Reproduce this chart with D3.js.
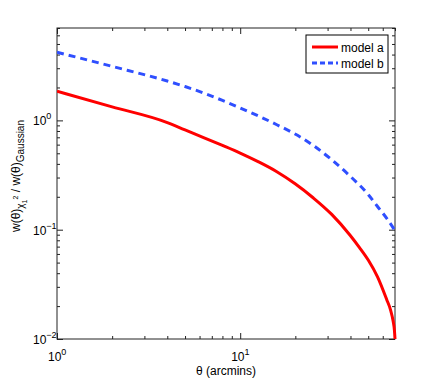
<!DOCTYPE html>
<meta charset="utf-8">
<style>
body { margin: 0; background: #fff; }
svg { font-family: "Liberation Sans", Arial, sans-serif; }
.axis path { stroke: #222; }
.axis line { stroke: #222; }
.lbl { font-size: 12px; fill: #000; }
</style>
<body>
<svg width="436" height="382"></svg>
<script src="https://d3js.org/d3.v7.min.js"></script>
<script>

// values (theta in arcmins)
var thetaA = [1, 2, 4, 5, 6.31, 7.94, 10, 12.6, 15.85, 19.95, 25.1, 31.6, 39.8, 44.7, 50.1, 56.2, 63.1, 66.1, 68.4, 69.5, 70];
var modelA = [1.85, 1.33, 0.955, 0.817, 0.697, 0.593, 0.502, 0.417, 0.339, 0.263, 0.195, 0.138, 0.089, 0.069, 0.0525, 0.037, 0.0229, 0.0186, 0.0145, 0.012, 0.01];

var thetaB = [1, 2, 4, 5, 6.31, 7.94, 10, 12.6, 15.85, 19.95, 25.1, 31.6, 39.8, 50.1, 56.2, 63.1, 70];
var modelB = [4.2, 3.12, 2.29, 2.04, 1.78, 1.53, 1.30, 1.096, 0.912, 0.75, 0.589, 0.436, 0.309, 0.209, 0.163, 0.127, 0.098];

var xMajor = [1, 10];
var yMajor = [0.01, 0.1, 1];
var xTickExp = ["0", "1"];
var yTickExp = ["\u22122", "\u22121", "0"];
var legendNames = ["model a", "model b"];

var padL = 57, padR = 395, padT = 28, padB = 339;

var svg = d3.select("svg");

var x = d3.scaleLog().domain([1, 70]).range([padL, padR]);
var y = d3.scaleLog().domain([0.01, 7]).range([padB, padT]);

var xMinor = [], yMinor = [];
[1, 10].forEach(function(d) {
  for (var k = 2; k <= 9; k++) if (d * k <= 70) xMinor.push(d * k);
});
[0.01, 0.1, 1].forEach(function(d) {
  for (var k = 2; k <= 9; k++) if (d * k <= 7) yMinor.push(d * k);
});

// inward ticks on all four sides
function addAxis(gen, tx, ty) {
  svg.append("g").attr("class", "axis")
    .attr("transform", "translate(" + tx + "," + ty + ")")
    .call(gen)
    .call(function(g) { g.selectAll("text").remove(); g.select(".domain").remove(); });
}
addAxis(d3.axisBottom(x).tickValues(xMajor).tickSize(-6), 0, padB);
addAxis(d3.axisBottom(x).tickValues(xMinor).tickSize(-3), 0, padB);
addAxis(d3.axisTop(x).tickValues(xMajor).tickSize(-6), 0, padT);
addAxis(d3.axisTop(x).tickValues(xMinor).tickSize(-3), 0, padT);
addAxis(d3.axisLeft(y).tickValues(yMajor).tickSize(-6), padL, 0);
addAxis(d3.axisLeft(y).tickValues(yMinor).tickSize(-3), padL, 0);
addAxis(d3.axisRight(y).tickValues(yMajor).tickSize(-6), padR, 0);
addAxis(d3.axisRight(y).tickValues(yMinor).tickSize(-3), padR, 0);

// box
svg.append("rect")
  .attr("x", padL).attr("y", padT)
  .attr("width", padR - padL).attr("height", padB - padT)
  .attr("fill", "none").attr("stroke", "#222").attr("stroke-width", 1);

// tick labels
xMajor.forEach(function(d, i) {
  var t = svg.append("text").attr("class", "lbl")
    .attr("x", x(d) - 9).attr("y", 361);
  t.append("tspan").text("10");
  t.append("tspan").attr("dy", -6).style("font-size", "9px").text(xTickExp[i]);
});
yMajor.forEach(function(d, i) {
  var t = svg.append("text").attr("class", "lbl")
    .attr("x", 33).attr("y", y(d) + 5);
  t.append("tspan").text("10");
  t.append("tspan").attr("dy", -6).style("font-size", "9px").text(yTickExp[i]);
});

// axis labels
svg.append("text").attr("class", "lbl")
  .attr("x", 226).attr("y", 375).attr("text-anchor", "middle")
  .text("\u03b8 (arcmins)");

var yl = svg.append("text").attr("class", "lbl")
  .attr("transform", "translate(20,176) rotate(-90)")
  .attr("text-anchor", "middle");
yl.append("tspan").text("w(\u03b8)");
yl.append("tspan").attr("dy", 4).style("font-size", "10px").text("\u03c7");
yl.append("tspan").attr("dy", 3).style("font-size", "7px").text("1");
yl.append("tspan").attr("dy", -9).style("font-size", "7px").text("2");
yl.append("tspan").attr("dy", 2).text(" / w(\u03b8)");
yl.append("tspan").attr("dy", 4).style("font-size", "10px").text("Gaussian");

// curves
var line = d3.line()
  .x(function(d) { return x(d[0]); })
  .y(function(d) { return y(d[1]); })
  .curve(d3.curveMonotoneX);

svg.append("clipPath").attr("id", "plot")
  .append("rect").attr("x", padL).attr("y", padT)
  .attr("width", padR - padL + 2).attr("height", padB - padT + 2);

svg.append("path")
  .datum(d3.zip(thetaA, modelA))
  .attr("d", line)
  .attr("fill", "none")
  .attr("stroke", "#ff0000")
  .attr("stroke-width", 3)
  .attr("clip-path", "url(#plot)");

svg.append("path")
  .datum(d3.zip(thetaB, modelB))
  .attr("d", line)
  .attr("fill", "none")
  .attr("stroke", "#2f4fff")
  .attr("stroke-width", 3)
  .attr("stroke-dasharray", "7,5")
  .attr("clip-path", "url(#plot)");

// legend
var lg = svg.append("g");
lg.append("rect")
  .attr("x", 306).attr("y", 35).attr("width", 82).attr("height", 38)
  .attr("fill", "#fff").attr("stroke", "#000").attr("stroke-width", 1);
var legStyles = [
  { color: "#ff0000", dash: null },
  { color: "#2f4fff", dash: "5,3" }
];
legendNames.forEach(function(name, i) {
  var ly = 47 + i * 16;
  lg.append("line")
    .attr("x1", 312).attr("x2", 338).attr("y1", ly).attr("y2", ly)
    .attr("stroke", legStyles[i].color).attr("stroke-width", 3)
    .attr("stroke-dasharray", legStyles[i].dash);
  lg.append("text").attr("class", "lbl")
    .attr("x", 341).attr("y", ly + 4.5)
    .text(name);
});

</script>
